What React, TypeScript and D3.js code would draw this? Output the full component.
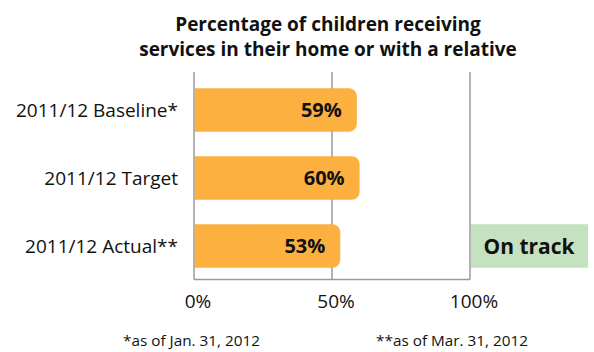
import React from "react";
import * as d3 from "d3";

const categories = ["2011/12 Baseline*", "2011/12 Target", "2011/12 Actual**"];
const values = [59, 60, 53];
const valueLabels = ["59%", "60%", "53%"];
const ticks = [0, 50, 100];
const tickLabels = ["0%", "50%", "100%"];
const titleLines = ["Percentage of children receiving", "services in their home or with a relative"];
const statusText = "On track";
const footnotes = ["*as of Jan. 31, 2012", "**as of Mar. 31, 2012"];

const W = 594;
const H = 352;
const FONT = "'Open Sans', 'DejaVu Sans', sans-serif";

function barPath(x0: number, x1: number, y0: number, h: number, r: number) {
  const p = d3.path();
  p.moveTo(x0, y0);
  p.lineTo(x1 - r, y0);
  p.arcTo(x1, y0, x1, y0 + r, r);
  p.lineTo(x1, y0 + h - r);
  p.arcTo(x1, y0 + h, x1 - r, y0 + h, r);
  p.lineTo(x0, y0 + h);
  p.closePath();
  return p.toString();
}

export default function App() {
  const x = d3.scaleLinear().domain([0, 100]).range([194, 470]);
  const y = d3.scaleBand<string>().domain(categories).range([76, 280]).paddingInner(0.36).paddingOuter(0.18);
  const gridTop = 72;
  const axisY = 279.5;
  const bw = y.bandwidth();
  const lastCat = categories[categories.length - 1];

  return (
    <svg width={W} height={H} style={{ position: "absolute", left: 0, top: 0 }} fontFamily={FONT}>
      <rect width={W} height={H} fill="#fff" />
      {titleLines.map((t, i) => (
        <text key={i} x={328} y={31 + i * 25} textAnchor="middle" fontWeight="bold" fontSize={19} fill="#111">
          {t}
        </text>
      ))}
      {ticks.map((t) => (
        <line key={t} x1={x(t)} x2={x(t)} y1={gridTop} y2={axisY} stroke="#9a9a9a" strokeWidth={1.5} />
      ))}
      <line x1={x(0)} x2={x(100)} y1={axisY} y2={axisY} stroke="#9a9a9a" strokeWidth={1.5} />
      {categories.map((c, i) => {
        const y0 = y(c)!;
        return (
          <g key={c}>
            <path d={barPath(x(0) + 0.75, x(values[i]), y0, bw, 8)} fill="#FBB040" />
            <text x={x(values[i]) - 15} y={y0 + bw / 2} dy="0.36em" textAnchor="end" fontWeight="bold" fontSize={20} fill="#111">
              {valueLabels[i]}
            </text>
            <text x={178} y={y0 + bw / 2} dy="0.36em" textAnchor="end" fontSize={19} fill="#111">
              {c}
            </text>
          </g>
        );
      })}
      <rect x={x(100) + 1} y={y(lastCat)!} width={588 - x(100) - 1} height={bw} fill="#C4E2BF" />
      <text x={(x(100) + 588) / 2} y={y(lastCat)! + bw / 2} dy="0.36em" textAnchor="middle" fontWeight="bold" fontSize={21} fill="#111">
        {statusText}
      </text>
      {ticks.map((t, i) => (
        <text key={t} x={x(t) + 4} y={301} dy="0.36em" textAnchor="middle" fontSize={19} fill="#111">
          {tickLabels[i]}
        </text>
      ))}
      <text x={191.5} y={340} dy="0.36em" textAnchor="middle" fontSize={15.3} fill="#111">
        {footnotes[0]}
      </text>
      <text x={452} y={340} dy="0.36em" textAnchor="middle" fontSize={15.3} fill="#111">
        {footnotes[1]}
      </text>
    </svg>
  );
}
